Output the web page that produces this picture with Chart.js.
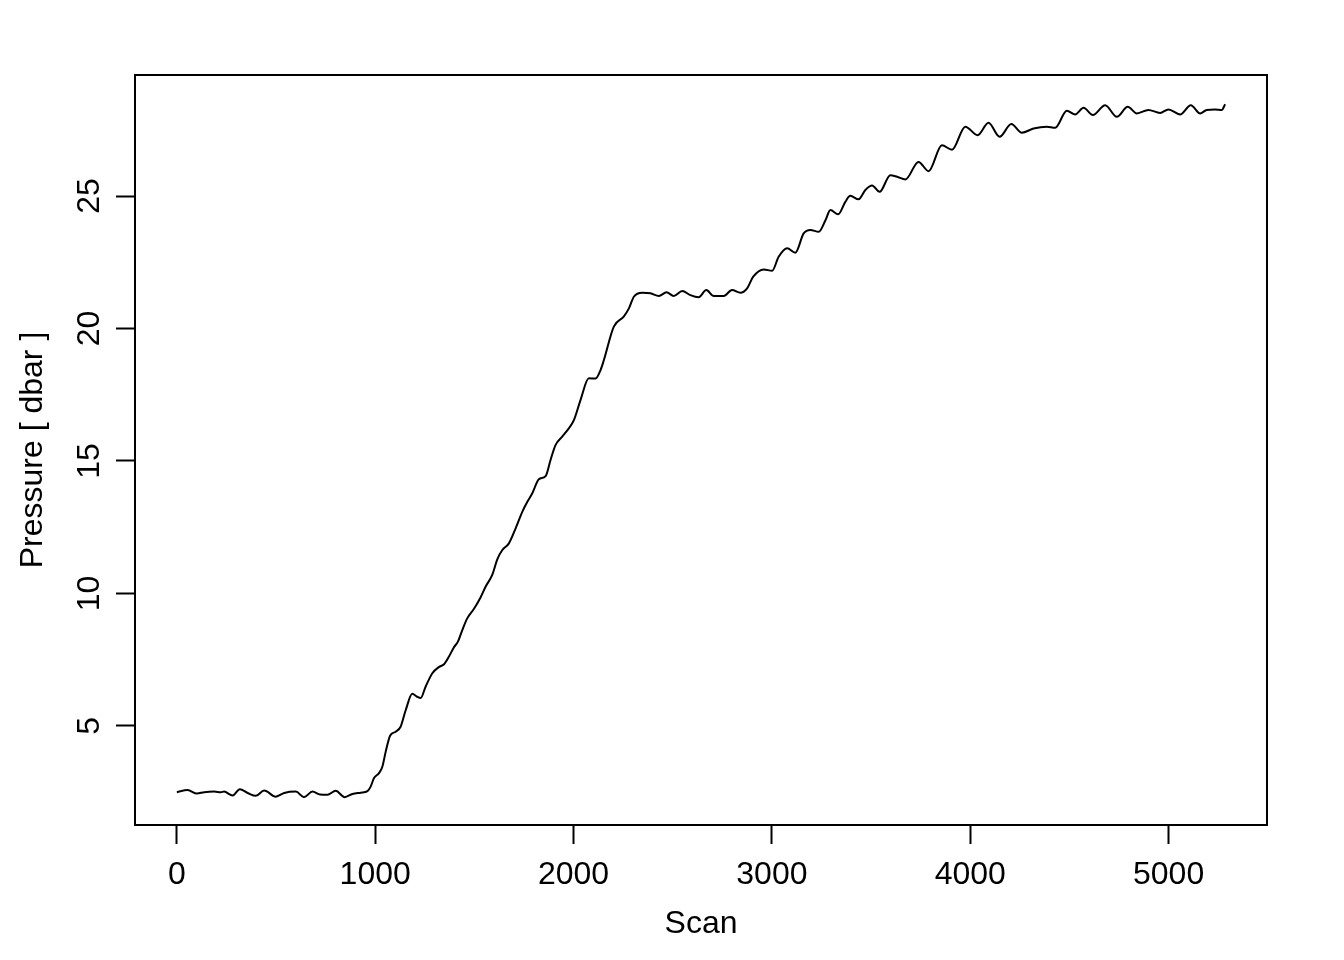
<!DOCTYPE html>
<html>
<head>
<meta charset="utf-8">
<style>
html,body{margin:0;padding:0;background:#fff;}
#wrap{width:1344px;height:960px;}
</style>
<script src="https://cdn.jsdelivr.net/npm/chart.js@4/dist/chart.umd.min.js"></script>
</head>
<body>
<div id="wrap"><canvas id="c" width="1344" height="960"></canvas></div>
<script>
// Scan number (x) and pressure in dbar (y)
const scan = [0,54,101,138,188,222,238,281,317,359,398,440,499,541,600,641,684,722,759,801,846,885,927,961,977,994,1019,1036,1053,1075,1103,1128,1154,1187,1209,1229,1254,1288,1321,1347,1372,1397,1417,1439,1464,1498,1531,1557,1590,1616,1641,1674,1708,1742,1767,1792,1825,1859,1884,1909,1943,1976,2001,2035,2077,2111,2136,2153,2203,2253,2279,2304,2346,2388,2430,2469,2505,2548,2589,2631,2669,2707,2757,2799,2841,2875,2905,2959,3001,3034,3077,3118,3160,3194,3236,3270,3295,3334,3370,3395,3437,3471,3505,3543,3597,3631,3673,3739,3790,3857,3908,3975,4037,4092,4148,4207,4260,4319,4386,4428,4487,4529,4571,4618,4680,4739,4794,4840,4898,4957,4999,5058,5112,5159,5192,5234,5268,5285];
const pressure = [2.50,2.58,2.45,2.50,2.52,2.50,2.52,2.37,2.61,2.46,2.36,2.56,2.33,2.47,2.52,2.31,2.52,2.41,2.40,2.55,2.31,2.43,2.48,2.54,2.71,3.03,3.22,3.46,4.03,4.63,4.78,4.97,5.60,6.21,6.11,6.05,6.48,6.99,7.22,7.33,7.62,7.97,8.18,8.62,9.06,9.42,9.85,10.26,10.70,11.30,11.64,11.89,12.46,13.09,13.46,13.78,14.31,14.43,15.04,15.60,15.92,16.23,16.53,17.30,18.12,18.11,18.43,18.81,20.07,20.45,20.76,21.20,21.35,21.33,21.23,21.37,21.23,21.42,21.26,21.18,21.45,21.23,21.23,21.45,21.35,21.52,21.95,22.23,22.18,22.71,23.03,22.86,23.59,23.72,23.65,24.09,24.47,24.31,24.78,25.01,24.88,25.23,25.40,25.16,25.79,25.73,25.63,26.29,25.94,26.92,26.75,27.62,27.30,27.77,27.24,27.72,27.39,27.55,27.62,27.58,28.22,28.08,28.33,28.06,28.43,27.99,28.37,28.12,28.25,28.14,28.27,28.08,28.43,28.12,28.25,28.27,28.25,28.47];
const xTicks = [0,1000,2000,3000,4000,5000];
const yTicks = [5,10,15,20,25];
const xRange = [-211, 5496];
const yRange = [1.26, 29.57];

const FONT = "'Liberation Sans', Arial, Helvetica, sans-serif";
const points = scan.map((s,i)=>({x:s, y:pressure[i]}));

const boxPlugin = {
  id:'box',
  afterDraw(chart){
    const a = chart.chartArea, ctx = chart.ctx;
    ctx.save();
    ctx.strokeStyle = '#000';
    ctx.lineWidth = 2;
    ctx.strokeRect(a.left, a.top, a.right-a.left, a.bottom-a.top);
    ctx.restore();
  }
};

new Chart(document.getElementById('c'), {
  type:'line',
  data:{datasets:[{
    data: points,
    borderColor:'#000',
    borderWidth:2,
    pointRadius:0,
    cubicInterpolationMode:'monotone',
    fill:false
  }]},
  options:{
    responsive:false,
    animation:false,
    events:[],
    layout:{padding:{top:75,right:77,left:0,bottom:0}},
    plugins:{legend:{display:false},tooltip:{enabled:false}},
    scales:{
      x:{
        type:'linear',
        min:xRange[0], max:xRange[1],
        afterBuildTicks(s){ s.ticks = xTicks.map(v=>({value:v})); },
        afterFit(s){ s.height = 135; },
        border:{display:false},
        grid:{drawOnChartArea:false, drawTicks:true, tickLength:19, tickColor:'#000', tickWidth:2},
        ticks:{color:'#000', font:{family:FONT, size:32}, padding:12, maxRotation:0, autoSkip:false, callback:(v)=>String(v)},
        title:{display:true, text:'Scan', color:'#000', font:{family:FONT, size:32}, padding:{top:0,bottom:17}}
      },
      y:{
        type:'linear',
        min:yRange[0], max:yRange[1],
        afterBuildTicks(s){ s.ticks = yTicks.map(v=>({value:v})); },
        afterFit(s){ s.width = 135; },
        border:{display:false},
        grid:{drawOnChartArea:false, drawTicks:true, tickLength:19, tickColor:'#000', tickWidth:2},
        ticks:{color:'#000', font:{family:FONT, size:32}, padding:8, minRotation:90, maxRotation:90, crossAlign:'center', autoSkip:false, callback:(v)=>String(v)},
        title:{display:true, text:'Pressure [ dbar ]', color:'#000', font:{family:FONT, size:32}, padding:{top:14,bottom:0}}
      }
    }
  },
  plugins:[boxPlugin]
});
</script>
</body>
</html>
